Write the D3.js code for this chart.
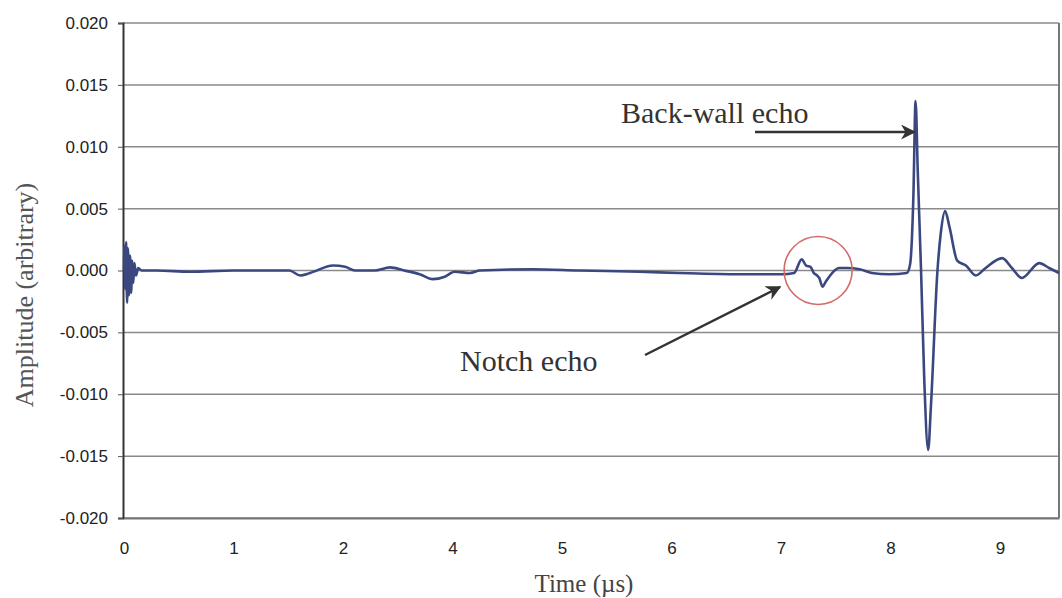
<!DOCTYPE html>
<html>
<head>
<meta charset="utf-8">
<script src="https://cdn.jsdelivr.net/npm/d3@7"></script>
<style>
  body { margin: 0; background: #fff; }
  .serif { font-family: "Liberation Serif", "Times New Roman", serif; fill: #333; }
</style>
</head>
<body>
<svg width="1062" height="598"></svg>
<script>
// x positions in axis units (one unit per labelled tick)
var xTickLabels = ["0", "1", "2", "4", "5", "6", "7", "8", "9"];
var yTicks = [0.020, 0.015, 0.010, 0.005, 0.000, -0.005, -0.010, -0.015, -0.020];

var time = [0, 0.005, 0.012, 0.02, 0.028, 0.036, 0.045, 0.055, 0.065, 0.075, 0.085, 0.095, 0.11, 0.13, 0.16,
    0.3, 0.6, 1.0, 1.3, 1.51, 1.61, 1.7, 1.91, 2.02, 2.11, 2.29, 2.43, 2.56, 2.7, 2.82, 2.93, 3.02, 3.16, 3.25,
    3.73, 4.16, 4.71, 5.07, 5.62, 6.01,
    6.12, 6.19, 6.23, 6.27, 6.3, 6.33, 6.35, 6.38, 6.41, 6.45, 6.49, 6.53, 6.6, 6.72, 6.83, 6.99, 7.15,
    7.18, 7.21, 7.23, 7.25, 7.28, 7.31, 7.345, 7.37, 7.43, 7.46, 7.5, 7.54, 7.61, 7.69, 7.78, 7.87,
    8.02, 8.11, 8.2, 8.36, 8.45, 8.54];
var amplitude = [0, 0.002, -0.0015, 0.0023, -0.0026, 0.0018, -0.002, 0.0012, -0.0018, 0.0008, -0.001, 0.0006, -0.0004, 0.0002, 0,
    0, -0.0001, 0, 0, 0, -0.0004, -0.0002, 0.0004, 0.0003, 0, 0, 0.00025, 0, -0.0003, -0.0007, -0.0005, -0.0001, -0.0002, 0,
    0.0001, 0, -0.0001, -0.0002, -0.0003, -0.0003,
    -0.0002, 0.0009, 0.0004, 0.0003, -0.0002, -0.0004, -0.0006, -0.0013, -0.0009, -0.0004, 0, 0.0002, 0.0002, 0.0001, -0.0002, -0.0003, -0.0002,
    0.0005, 0.006, 0.0137, 0.008, 0, -0.009, -0.0145, -0.011, 0, 0.003, 0.0048, 0.0035, 0.0008, 0.0004, -0.0004, 0.0002,
    0.001, 0.0002, -0.0006, 0.0006, 0.0002, -0.0002];

var svg = d3.select("svg");
var plotLeft = 123, plotRight = 1059, plotTop = 23, plotBottom = 518;

var x = d3.scaleLinear().domain([0, 8.54]).range([plotLeft + 1, plotRight]);
var y = d3.scaleLinear().domain([-0.02, 0.02]).range([plotBottom, plotTop]);

// gridlines
svg.append("g")
    .selectAll("line")
    .data(yTicks)
    .enter()
    .append("line")
    .attr("x1", plotLeft)
    .attr("x2", plotRight)
    .attr("y1", d => y(d))
    .attr("y2", d => y(d))
    .attr("stroke", "#8a8a8a")
    .attr("stroke-width", 1.5);

// right border
svg.append("line")
    .attr("x1", plotRight).attr("x2", plotRight)
    .attr("y1", plotTop).attr("y2", plotBottom)
    .attr("stroke", "#777").attr("stroke-width", 2);

// y axis
var yAxis = svg.append("g")
    .attr("transform", "translate(" + plotLeft + ",0)")
    .call(d3.axisLeft(y).tickValues(yTicks).tickFormat(d => d.toFixed(3)).tickSize(5).tickPadding(10));
yAxis.select(".domain").attr("stroke", "#333").attr("stroke-width", 2);
yAxis.selectAll(".tick line").attr("stroke", "#555");
yAxis.selectAll(".tick text")
    .attr("font-family", "'Liberation Sans', Arial, sans-serif")
    .attr("font-size", 17)
    .attr("fill", "#222");

// x axis
var xAxis = svg.append("g")
    .attr("transform", "translate(0," + plotBottom + ")")
    .call(d3.axisBottom(x).tickValues(d3.range(xTickLabels.length))
        .tickFormat((d, i) => xTickLabels[i]).tickSize(0).tickPadding(24));
xAxis.select(".domain").attr("stroke", "#777").attr("stroke-width", 2);
xAxis.selectAll(".tick text")
    .attr("font-family", "'Liberation Sans', Arial, sans-serif")
    .attr("font-size", 17)
    .attr("fill", "#222");

// signal
var points = time.map((t, i) => [t, amplitude[i]]);
svg.append("path")
    .datum(points)
    .attr("fill", "none")
    .attr("stroke", "#3b4880")
    .attr("stroke-width", 2.6)
    .attr("stroke-linejoin", "round")
    .attr("d", d3.line().x(d => x(d[0])).y(d => y(d[1])).curve(d3.curveMonotoneX));

// annotations
svg.append("defs").append("marker")
    .attr("id", "head")
    .attr("viewBox", "0 0 10 10")
    .attr("refX", 9).attr("refY", 5)
    .attr("markerWidth", 6).attr("markerHeight", 6)
    .attr("orient", "auto")
    .append("path")
    .attr("d", "M0,0 L10,5 L0,10 L3,5 Z")
    .attr("fill", "#333");

svg.append("circle")
    .attr("cx", x(6.34)).attr("cy", y(0))
    .attr("r", 34)
    .attr("fill", "none")
    .attr("stroke", "#d46a6a")
    .attr("stroke-width", 1.6);

svg.append("line")
    .attr("x1", 755).attr("y1", 132)
    .attr("x2", x(7.22)).attr("y2", 132)
    .attr("stroke", "#333").attr("stroke-width", 2.5)
    .attr("marker-end", "url(#head)");

svg.append("line")
    .attr("x1", 645).attr("y1", 355)
    .attr("x2", 780).attr("y2", 287)
    .attr("stroke", "#333").attr("stroke-width", 2.5)
    .attr("marker-end", "url(#head)");

svg.append("text")
    .attr("class", "serif")
    .attr("x", 621).attr("y", 123)
    .attr("font-size", 30)
    .text("Back-wall echo");

svg.append("text")
    .attr("class", "serif")
    .attr("x", 460).attr("y", 371)
    .attr("font-size", 30)
    .text("Notch echo");

svg.append("text")
    .attr("class", "serif")
    .attr("transform", "translate(33,295) rotate(-90)")
    .attr("text-anchor", "middle")
    .attr("font-size", 26)
    .style("fill", "#555")
    .text("Amplitude (arbitrary)");

svg.append("text")
    .attr("class", "serif")
    .attr("x", 584).attr("y", 592)
    .attr("text-anchor", "middle")
    .attr("font-size", 25)
    .style("fill", "#444")
    .text("Time (\u00b5s)");
</script>
</body>
</html>
